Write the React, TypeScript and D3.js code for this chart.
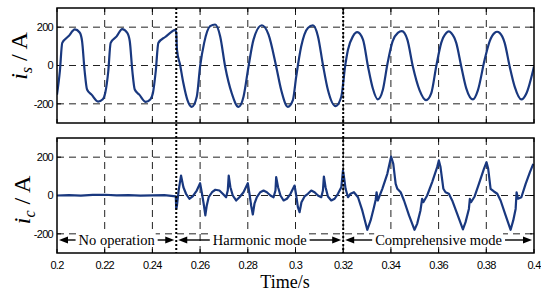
import { useEffect, useRef } from 'react';
import * as d3 from 'd3';

// time axis
const timeTicks = [0.2, 0.22, 0.24, 0.26, 0.28, 0.3, 0.32, 0.34, 0.36, 0.38, 0.4];
const timeTickLabels = ['0.2', '0.22', '0.24', '0.26', '0.28', '0.3', '0.32', '0.34', '0.36', '0.38', '0.4'];
const ampTicks = [-200, 0, 200];

// operating modes
const modeBounds = [0.2, 0.25, 0.32, 0.4];
const modeLabels = ['No operation', 'Harmonic mode', 'Comprehensive mode'];
const modeSwitch = [0.25, 0.32];

// source current i_s
const isTime = [
  0.2, 0.2012, 0.2022, 0.2048, 0.2075, 0.2095, 0.2105, 0.2116, 0.2126, 0.2145, 0.2172, 0.2192, 0.2202,
  0.2215, 0.2225, 0.225, 0.2273, 0.2294, 0.2305, 0.2316, 0.2326, 0.2345, 0.2372, 0.2392, 0.2402,
  0.2414, 0.2425, 0.2455, 0.248, 0.2494, 0.25,
  0.2503, 0.2516, 0.253, 0.2547, 0.2565, 0.2586, 0.26, 0.2617, 0.2642, 0.2663, 0.2684,
  0.2705, 0.2733, 0.2761, 0.2782, 0.2803, 0.2824, 0.2859, 0.2887, 0.2919, 0.294, 0.2968, 0.2989,
  0.3003, 0.3024, 0.3052, 0.3073, 0.3094, 0.3115, 0.3136, 0.3168, 0.3192, 0.3208,
  0.322, 0.3241, 0.3259, 0.3283, 0.3304, 0.3324, 0.3345, 0.3366, 0.3386, 0.3407, 0.3429, 0.3446,
  0.3469, 0.3492, 0.352, 0.3548, 0.3569, 0.359, 0.3611, 0.3632, 0.3643, 0.3653, 0.3674, 0.3695,
  0.3716, 0.3744, 0.3765, 0.3793, 0.3814, 0.3835, 0.3845, 0.3856, 0.3877, 0.3898, 0.3919, 0.3947,
  0.3968, 0.4,
];
const isValue = [
  -152, -30, 118, 152, 188, 172, 128, -30, -125, -152, -188, -176, -145,
  -30, 118, 152, 190, 172, 128, -30, -125, -152, -190, -176, -145,
  -30, 118, 150, 175, 186, 172,
  82, 4, -93, -181, -216, -163, -5, 118, 205, 214, 153,
  -5, -146, -216, -163, -5, 135, 210, 161, -5, -128, -216, -181,
  -58, 100, 196, 209, 153, 4, -128, -212, -163, -5,
  82, 153, 174, 135, -5, -119, -177, -128, 12, 126, 170, 179,
  135, -5, -128, -181, -146, -5, 118, 170, 178, 170, 118, -5,
  -119, -177, -128, 30, 126, 170, 176, 170, 118, -5, -110, -177,
  -146, -5,
];

// compensating current i_c
const icTime = [
  0.2, 0.205, 0.21, 0.215, 0.22, 0.225, 0.23, 0.235, 0.24, 0.245, 0.2498,
  0.25, 0.2503, 0.251, 0.252, 0.253, 0.2541, 0.2555, 0.2569, 0.2586, 0.26, 0.2608, 0.2615, 0.2622,
  0.2628, 0.2636, 0.265, 0.2664, 0.2681, 0.2695, 0.2709, 0.2716, 0.272, 0.2727, 0.2737, 0.2751,
  0.2765, 0.2782, 0.28, 0.2807, 0.2814, 0.2821, 0.2828, 0.2838, 0.2852, 0.2866, 0.288, 0.2895,
  0.2908, 0.2916, 0.2919, 0.2927, 0.2937, 0.295, 0.2964, 0.2979, 0.2996, 0.3003, 0.301, 0.3017,
  0.3025, 0.3038, 0.3052, 0.3066, 0.308, 0.3094, 0.3108, 0.3115, 0.3119, 0.3126, 0.3136, 0.315,
  0.3164, 0.3178, 0.3192, 0.3199, 0.3203, 0.321, 0.322, 0.3231, 0.3245, 0.3262, 0.328, 0.3301,
  0.3315, 0.3329, 0.3336, 0.334, 0.3345, 0.3364, 0.3385, 0.3401, 0.341, 0.342, 0.3427, 0.3441,
  0.3455, 0.3476, 0.3499, 0.351, 0.3524, 0.3531, 0.3536, 0.3552, 0.3573, 0.3594, 0.3601, 0.3608,
  0.362, 0.3629, 0.3643, 0.3657, 0.3678, 0.3702, 0.3713, 0.3727, 0.3731, 0.3736, 0.3751, 0.3769,
  0.379, 0.3801, 0.3808, 0.3818, 0.3832, 0.3846, 0.386, 0.3881, 0.3902, 0.3913, 0.3923, 0.3927,
  0.3933, 0.3947, 0.3965, 0.3983, 0.3997,
];
const icValue = [
  0, 2, -1, 3, 4, 1, 2, -1, 1, 2, -5,
  -70, -52, 26, 104, 43, 9, -17, -5, 26, 64, 9, -43, -104,
  -52, -9, 17, 30, 26, 9, -9, 26, 104, 43, 0, -26,
  -9, 17, 64, 9, -52, -99, -43, -9, 17, 26, 17, 0,
  -9, 26, 96, 43, 0, -26, -17, 9, 52, 0, -61, -87,
  -35, -5, 9, 26, 17, 0, -9, 26, 99, 43, -5, -26,
  -17, 9, 43, 130, 100, 35, -9, 9, 17, -9, -78, -179,
  -130, -61, -23, 17, -26, 35, 113, 203, 165, 61, 35, 17,
  -26, -104, -179, -148, -78, -17, -35, 0, 70, 148, 183, 148,
  35, 17, 9, -26, -96, -177, -139, -70, -17, -35, -5, 61,
  139, 174, 139, 35, 21, 9, -26, -104, -179, -130, -70, 17,
  -17, -9, 61, 122, 165,
];

const W = 541;
const H = 291;
const LEFT = 57;
const RIGHT = 534;
const SANS = 'Liberation Sans, Arial, sans-serif';
const SERIF = 'Liberation Serif, Times New Roman, serif';
const TRACE = '#19387f';

const App = () => {
  const svgRef = useRef<SVGSVGElement>(null);

  useEffect(() => {
    const svg = d3.select(svgRef.current);
    svg.selectAll('*').remove();

    const x = d3.scaleLinear().domain([0.2, 0.4]).range([LEFT, RIGHT]);

    const panels = [
      { id: 'is', top: 8, bottom: 123, t: isTime, v: isValue, sub: 's', curve: d3.curveMonotoneX, labelX: 27, labelY: 56 },
      { id: 'ic', top: 138, bottom: 253, t: icTime, v: icValue, sub: 'c', curve: d3.curveLinear, labelX: 30, labelY: 200 },
    ];

    panels.forEach(p => {
      const y = d3.scaleLinear().domain([-300, 300]).range([p.bottom, p.top]);
      const g = svg.append('g');

      g.append('clipPath').attr('id', `clip-${p.id}`)
        .append('rect')
        .attr('x', LEFT).attr('y', p.top)
        .attr('width', RIGHT - LEFT).attr('height', p.bottom - p.top);

      // dashed grid
      g.selectAll('.vgrid')
        .data(timeTicks.slice(1, -1))
        .enter().append('line')
        .attr('x1', d => x(d)).attr('x2', d => x(d))
        .attr('y1', p.top).attr('y2', p.bottom)
        .attr('stroke', '#222').attr('stroke-width', 1)
        .attr('stroke-dasharray', '7,5');

      g.selectAll('.hgrid')
        .data(ampTicks)
        .enter().append('line')
        .attr('x1', LEFT).attr('x2', RIGHT)
        .attr('y1', d => y(d)).attr('y2', d => y(d))
        .attr('stroke', '#222').attr('stroke-width', 1)
        .attr('stroke-dasharray', '7,5');

      // inward ticks
      const tickLen = 4;
      timeTicks.forEach(t => {
        g.append('line').attr('x1', x(t)).attr('x2', x(t))
          .attr('y1', p.bottom).attr('y2', p.bottom - tickLen).attr('stroke', '#000');
        g.append('line').attr('x1', x(t)).attr('x2', x(t))
          .attr('y1', p.top).attr('y2', p.top + tickLen).attr('stroke', '#000');
      });
      ampTicks.forEach(a => {
        g.append('line').attr('x1', LEFT).attr('x2', LEFT + tickLen)
          .attr('y1', y(a)).attr('y2', y(a)).attr('stroke', '#000');
        g.append('line').attr('x1', RIGHT).attr('x2', RIGHT - tickLen)
          .attr('y1', y(a)).attr('y2', y(a)).attr('stroke', '#000');
      });

      // trace
      const pts = p.t.map((t, i) => [t, p.v[i]] as [number, number]);
      const line = d3.line<[number, number]>()
        .x(d => x(d[0]))
        .y(d => y(d[1]))
        .curve(p.curve);
      g.append('path')
        .datum(pts)
        .attr('clip-path', `url(#clip-${p.id})`)
        .attr('d', line)
        .attr('fill', 'none')
        .attr('stroke', TRACE)
        .attr('stroke-width', 2.2)
        .attr('stroke-linejoin', 'round');

      // frame
      g.append('rect')
        .attr('x', LEFT).attr('y', p.top)
        .attr('width', RIGHT - LEFT).attr('height', p.bottom - p.top)
        .attr('fill', 'none').attr('stroke', '#000').attr('stroke-width', 1.5);

      // y tick labels
      g.selectAll('.ylab')
        .data(ampTicks)
        .enter().append('text')
        .attr('x', 53)
        .attr('y', d => y(d))
        .attr('dy', '0.35em')
        .attr('text-anchor', 'end')
        .attr('font-family', SANS)
        .attr('font-size', 11)
        .attr('letter-spacing', -0.7)
        .text(d => d);

      // y axis title
      const title = g.append('text')
        .attr('transform', `translate(${p.labelX},${p.labelY}) rotate(-90)`)
        .attr('text-anchor', 'middle')
        .attr('font-family', SERIF)
        .attr('font-size', 24);
      title.append('tspan').attr('font-style', 'italic').text('i');
      title.append('tspan').attr('font-style', 'italic').attr('font-size', 16).attr('dy', 5).text(p.sub);
      title.append('tspan').attr('dy', -5).text(' / A');
    });

    // mode switching instants
    svg.selectAll('.switch')
      .data(modeSwitch)
      .enter().append('line')
      .attr('x1', d => x(d)).attr('x2', d => x(d))
      .attr('y1', 8).attr('y2', 253)
      .attr('stroke', '#000').attr('stroke-width', 2)
      .attr('stroke-dasharray', '2,2');

    // x tick labels
    svg.selectAll('.xlab')
      .data(timeTicks)
      .enter().append('text')
      .attr('x', d => x(d))
      .attr('y', 269)
      .attr('text-anchor', 'middle')
      .attr('font-family', SANS)
      .attr('font-size', 11)
      .attr('letter-spacing', -0.7)
      .text((_, i) => timeTickLabels[i]);

    svg.append('text')
      .attr('x', 285).attr('y', 288)
      .attr('text-anchor', 'middle')
      .attr('font-family', SERIF)
      .attr('font-size', 18)
      .text('Time/s');

    // mode annotations with double arrows
    const ay = 240;
    modeLabels.forEach((label, i) => {
      const a = x(modeBounds[i]) + 2;
      const b = x(modeBounds[i + 1]) - 2;
      const cx = (a + b) / 2;
      const g = svg.append('g');
      const txt = g.append('text')
        .attr('x', cx).attr('y', ay + 5)
        .attr('text-anchor', 'middle')
        .attr('font-family', SERIF)
        .attr('font-size', 14.5)
        .text(label);
      const w = (txt.node() as SVGTextElement).getComputedTextLength();
      g.insert('rect', 'text')
        .attr('x', cx - w / 2 - 1).attr('y', ay - 8)
        .attr('width', w + 2).attr('height', 15)
        .attr('fill', '#fff');
      const head = 9;
      g.append('line').attr('x1', a + head - 1).attr('x2', cx - w / 2 - 3)
        .attr('y1', ay).attr('y2', ay).attr('stroke', '#000').attr('stroke-width', 1.4);
      g.append('line').attr('x1', cx + w / 2 + 3).attr('x2', b - head + 1)
        .attr('y1', ay).attr('y2', ay).attr('stroke', '#000').attr('stroke-width', 1.4);
      g.append('path')
        .attr('d', `M${a},${ay} L${a + head},${ay - 3.5} L${a + head},${ay + 3.5} Z`)
        .attr('fill', '#000');
      g.append('path')
        .attr('d', `M${b},${ay} L${b - head},${ay - 3.5} L${b - head},${ay + 3.5} Z`)
        .attr('fill', '#000');
    });
  }, []);

  return (
    <svg
      ref={svgRef}
      width={W}
      height={H}
      style={{ position: 'absolute', left: 0, top: 0, background: '#fff' }}
    />
  );
};

export default App;
